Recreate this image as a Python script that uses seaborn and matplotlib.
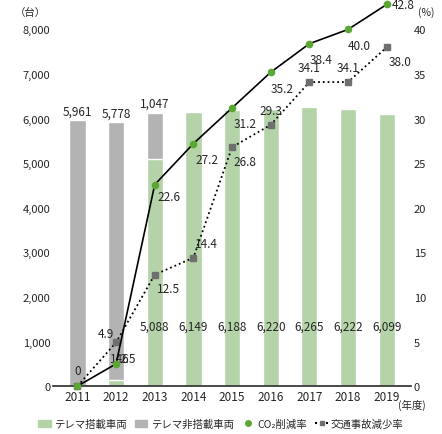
import numpy as np
import pandas as pd
import seaborn as sns
import matplotlib.pyplot as plt
from matplotlib.lines import Line2D
from matplotlib.patches import Patch

sns.set_theme(style="white")
plt.rcParams['font.family'] = ['Noto Sans CJK JP', 'DejaVu Sans']

years = ["2011", "2012", "2013", "2014", "2015", "2016", "2017", "2018", "2019"]
telema = [0, 146, 5088, 6149, 6188, 6220, 6265, 6222, 6099]
non_telema = [5961, 5778, 1047, 0, 0, 0, 0, 0, 0]
co2_rate = [0, 2.5, 22.6, 27.2, 31.2, 35.2, 38.4, 40.0, 42.8]
accident_rate = [0, 4.9, 12.5, 14.4, 26.8, 29.3, 34.1, 34.1, 38.0]

green = "#b5d3a8"
gray = "#b3b3b3"
dot_green = "#5aa832"
sq_gray = "#6f6f6f"

fig, ax = plt.subplots(figsize=(4.42, 4.35), dpi=100)
df = pd.DataFrame({"year": years, "telema": telema, "total": np.array(telema) + np.array(non_telema)})
sns.barplot(data=df, x="year", y="total", color=gray, width=0.42, ax=ax, saturation=1)
sns.barplot(data=df, x="year", y="telema", color=green, width=0.42, ax=ax, saturation=1)
ax.set_ylim(0, 8000)
ax.set_yticks(range(0, 8001, 1000))
ax.set_yticklabels([f"{v:,}" for v in range(0, 8001, 1000)], fontsize=8)
ax.set_xlabel("")
ax.set_ylabel("")
ax.tick_params(axis="x", labelsize=8.5, length=0, pad=3)
ax.tick_params(axis="y", length=0, pad=2)
for s in ["top", "right", "left"]:
    ax.spines[s].set_visible(False)
ax.spines["bottom"].set_color("#333333")

for i, v in enumerate(telema):
    if v >= 1000:
        ax.text(i, 1350, f"{v:,}", ha="center", va="center", fontsize=8.5)
    elif v > 0:
        ax.text(i + 0.1, 620, f"{v:,}", ha="center", va="center", fontsize=8.5)
for i, v in enumerate(non_telema):
    if v > 0:
        ax.text(i, telema[i] + v + 60, f"{v:,}", ha="center", va="bottom", fontsize=8.5)

ax2 = ax.twinx()
x = np.arange(len(years))
ax2.plot(x, accident_rate, color="black", linestyle=":", lw=1.3, marker="s", ms=4,
         markerfacecolor=sq_gray, markeredgecolor=sq_gray, zorder=3, clip_on=False)
ax2.plot(x, co2_rate, color="black", lw=1.2, marker="o", ms=4.5,
         markerfacecolor=dot_green, markeredgecolor=dot_green, zorder=4, clip_on=False)
ax2.set_ylim(0, 40)
ax2.set_yticks(range(0, 41, 5))
ax2.tick_params(axis="y", labelsize=8, length=0, pad=2)
for s in ["top", "right", "left", "bottom"]:
    ax2.spines[s].set_visible(False)

ax2.text(0, 1.0, "0", ha="center", va="bottom", fontsize=8.5)
# CO2 labels: (dx, dy, ha)
co2_off = {1: (0.1, 0.6, "left"), 2: (0.08, -1.3, "left"), 3: (0.05, -1.8, "left"),
           4: (0.05, -1.8, "left"), 5: (0.0, -1.8, "left"), 6: (0.0, -1.8, "left"),
           7: (0.0, -1.8, "left"), 8: (0.12, 0.0, "left")}
for i, (dx, dy, ha) in co2_off.items():
    ax2.text(i + dx, co2_rate[i] + dy, f"{co2_rate[i]:.1f}", ha=ha, va="center", fontsize=8.5)
acc_off = {1: (-0.05, 1.0, "right"), 2: (0.05, -1.6, "left"), 3: (0.05, 1.6, "left"),
           4: (0.05, -1.6, "left"), 5: (0.0, 1.6, "center"), 6: (0.0, 1.6, "center"),
           7: (0.0, 1.6, "center"), 8: (0.05, -1.6, "left")}
for i, (dx, dy, ha) in acc_off.items():
    ax2.text(i + dx, accident_rate[i] + dy, f"{accident_rate[i]:.1f}", ha=ha, va="center", fontsize=8.5)

ax.text(-0.02, 1.04, "（台）", transform=ax.transAxes, ha="right", fontsize=7.5)
ax2.text(1.02, 1.04, "(%)", transform=ax.transAxes, ha="left", fontsize=7.5)
ax.text(8.3, -280, "(年度)", ha="left", va="top", fontsize=7.5)

handles = [Patch(color=green), Patch(color=gray),
           Line2D([], [], color=dot_green, marker="o", ls="none", ms=4),
           Line2D([], [], color="black", ls=":", marker="s", ms=3,
                  markerfacecolor=sq_gray, markeredgecolor=sq_gray)]
labels = ["テレマ搭載車両", "テレマ非搭載車両", "CO₂削減率", "交通事故減少率"]
fig.legend(handles, labels, loc="lower center", ncol=4, frameon=False, fontsize=7.5,
           handlelength=1.2, columnspacing=0.8, handletextpad=0.3, bbox_to_anchor=(0.5, -0.01))

fig.subplots_adjust(left=0.12, right=0.93, top=0.93, bottom=0.11)
fig.savefig("out.png", dpi=100)
